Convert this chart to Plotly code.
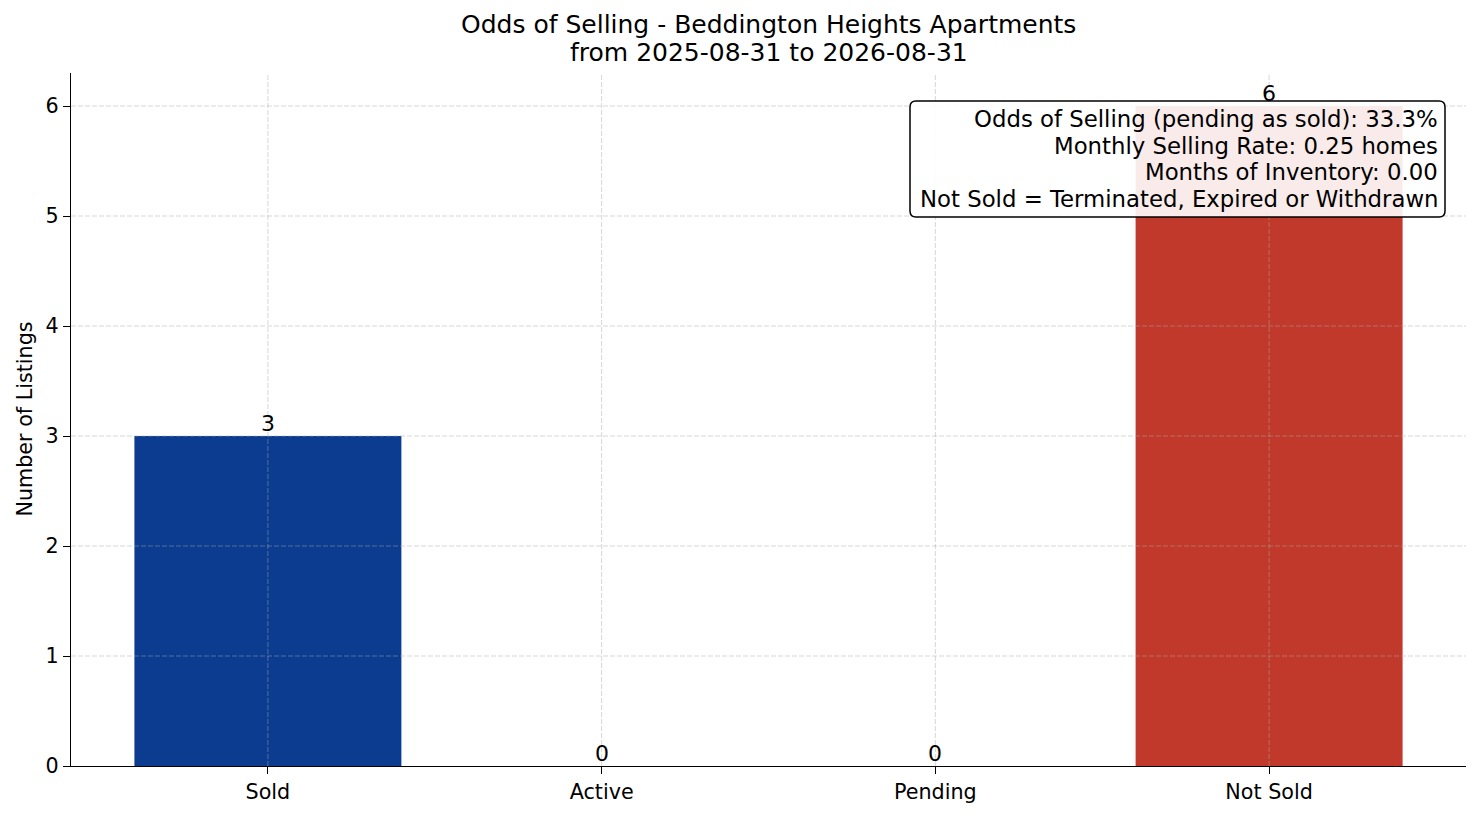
import plotly.graph_objects as go

# Listing counts by status
statuses = ["Sold", "Active", "Pending", "Not Sold"]
counts = [3, 0, 0, 6]
bar_colors = ["#0b3c8f", "#2e8b57", "#f39c12", "#c0392b"]

y_ticks = [0, 1, 2, 3, 4, 5, 6]

title_lines = ["Odds of Selling - Beddington Heights Apartments",
               "from 2025-08-31 to 2026-08-31"]
summary_lines = [
    "Odds of Selling (pending as sold): 33.3%",
    "Monthly Selling Rate: 0.25 homes",
    "Months of Inventory: 0.00",
    "Not Sold = Terminated, Expired or Withdrawn",
]

font = "DejaVu Sans"
grid_col = "rgba(170,170,170,0.6)"

# the page body has an 8px margin, so the figure is a bit smaller than the window
W, H = 1473, 808
ML, MR, MT, MB = 63, 15, 65, 50
pw, ph = W - ML - MR, H - MT - MB


def px(x):  # figure pixel -> paper x
    return (x - ML) / pw


def py(y):  # figure pixel -> paper y
    return (H - MB - y) / ph


fig = go.Figure()
fig.add_trace(go.Bar(
    x=statuses, y=counts,
    marker=dict(color=bar_colors, line=dict(width=0)),
    width=0.8,
    hoverinfo="x+y",
))

# value labels on top of the bars
for s, c in zip(statuses, counts):
    fig.add_annotation(x=s, y=c, text=str(c), showarrow=False,
                       xref="x", yref="y", yanchor="bottom", yshift=-2,
                       font=dict(family=font, size=22, color="black"))

# grid drawn above the bars, like the original
shapes = []
for yv in y_ticks[1:]:
    shapes.append(dict(type="line", xref="paper", yref="y", x0=0, x1=1, y0=yv, y1=yv,
                       line=dict(color=grid_col, width=0.8, dash="5px,2px"), layer="above"))
for s in statuses:
    shapes.append(dict(type="line", xref="x", yref="paper", x0=s, x1=s, y0=0, y1=1,
                       line=dict(color=grid_col, width=0.8, dash="5px,2px"), layer="above"))

# rounded summary box
bx0, bx1, by0, by1 = px(902), px(1437), py(209), py(93)
rx, ry = 6 / pw, 6 / ph
path = (f"M {bx0+rx},{by1} L {bx1-rx},{by1} Q {bx1},{by1} {bx1},{by1-ry} "
        f"L {bx1},{by0+ry} Q {bx1},{by0} {bx1-rx},{by0} "
        f"L {bx0+rx},{by0} Q {bx0},{by0} {bx0},{by0+ry} "
        f"L {bx0},{by1-ry} Q {bx0},{by1} {bx0+rx},{by1} Z")
shapes.append(dict(type="path", xref="paper", yref="paper", path=path,
                   fillcolor="rgba(255,255,255,0.9)", line=dict(color="black", width=1.5),
                   layer="above"))

for i, line in enumerate(summary_lines):
    fig.add_annotation(
        text=line, xref="paper", yref="paper", x=px(1432), y=py(111 + i * 26.7),
        xanchor="right", yanchor="middle", align="right", showarrow=False,
        font=dict(family=font, size=22.8, color="black"),
    )

# two-line title, centred over the plot area
for i, line in enumerate(title_lines):
    fig.add_annotation(
        text=line, xref="paper", yref="paper", x=0.5, y=py(17 + i * 28),
        xanchor="center", yanchor="middle", showarrow=False,
        font=dict(family=font, size=25, color="black"),
    )

fig.add_annotation(
    text="Number of Listings", textangle=-90,
    xref="paper", yref="paper", x=px(16), y=0.5,
    xanchor="center", yanchor="middle", showarrow=False,
    font=dict(family=font, size=20.7, color="black"),
)

fig.update_layout(
    width=W, height=H,
    font=dict(family=font, size=20.7, color="black"),
    plot_bgcolor="white", paper_bgcolor="white",
    margin=dict(l=ML, r=MR, t=MT, b=MB),
    showlegend=False,
    shapes=shapes,
    bargap=0.2,
)
fig.update_xaxes(
    range=[-0.59, 3.59], showgrid=False, showline=True, linecolor="black", linewidth=1.3,
    ticks="outside", ticklen=7, tickwidth=1.2, tickcolor="black",
    tickfont=dict(family=font, size=20.7), zeroline=False,
)
fig.update_yaxes(
    range=[0, 6.3], tickvals=y_ticks, showgrid=False, showline=True, linecolor="black",
    linewidth=1.3, ticks="outside", ticklen=7, tickwidth=1.2, tickcolor="black",
    tickfont=dict(family=font, size=20.7), zeroline=False,
)

fig.write_html("out.html")
